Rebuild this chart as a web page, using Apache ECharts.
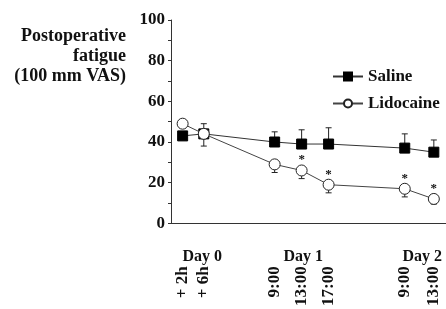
<!DOCTYPE html>
<html>
<head>
<meta charset="utf-8">
<script src="https://cdn.jsdelivr.net/npm/echarts@6/dist/echarts.min.js"></script>
<style>
  html, body { margin: 0; padding: 0; background: #fff; }
  #chart { width: 446px; height: 309px; }
</style>
</head>
<body>
<div id="chart"></div>
<script>
// x positions of the time points (unitless)
let xPos = [2.2, 6.2, 19.6, 24.7, 29.8, 44.2, 49.7]
let timeLabels = ['+ 2h', '+ 6h', '9:00', '13:00', '17:00', '9:00', '13:00']
let dayPos = [5.9, 25.0, 47.5]
let dayLabels = ['Day 0', 'Day 1', 'Day 2']

let salineMean = [43, 44, 40, 39, 39, 37, 35]
let salineErr = [2, 5, 5, 7, 8, 7, 6]
let lidoMean = [49, 44, 29, 26, 19, 17, 12]
let lidoErr = [2, 6, 4, 4, 4, 4, 2.5]
let lidoSig = [0, 0, 0, 1, 1, 1, 1]

let yTitle = ['Postoperative', 'fatigue', '(100 mm VAS)']

let font = '"Liberation Serif", "Times New Roman", serif'

function errSeries(mean, err, dir) {
  return {
    type: 'custom',
    z: 1,
    silent: true,
    data: mean.map((m, i) => [xPos[i], m, m + dir * err[i]]),
    renderItem: (params, api) => {
      let a = api.coord([api.value(0), api.value(1)])
      let b = api.coord([api.value(0), api.value(2)])
      let w = 3
      return {
        type: 'group',
        children: [
          { type: 'line', shape: { x1: a[0], y1: a[1], x2: b[0], y2: b[1] }, style: { stroke: '#222', lineWidth: 1 } },
          { type: 'line', shape: { x1: b[0] - w, y1: b[1], x2: b[0] + w, y2: b[1] }, style: { stroke: '#222', lineWidth: 1 } }
        ]
      }
    }
  }
}

var chart = echarts.init(document.getElementById('chart'))
let option = {
  animation: false,
  grid: { left: 171, right: 0, top: 20, height: 205 },
  legend: {
    left: 327,
    top: 63,
    orient: 'vertical',
    itemWidth: 30,
    itemHeight: 10,
    itemGap: 10,
    textStyle: { fontFamily: font, fontWeight: 'bold', fontSize: 17, color: '#111' },
    data: ['Saline', 'Lidocaine']
  },
  graphic: yTitle.map((t, i) => ({
    type: 'text',
    x: 126,
    y: 36 + i * 20,
    style: {
      text: t,
      font: 'bold 18px ' + font,
      fill: '#111',
      align: 'right',
      verticalAlign: 'middle'
    }
  })),
  xAxis: [
    {
      type: 'value',
      min: 0,
      max: 52,
      offset: 8,
      splitLine: { show: false },
      axisLine: { show: true, lineStyle: { color: '#333', width: 1 } },
      axisTick: { show: false },
      axisLabel: {
        customValues: xPos,
        rotate: 90,
        margin: 35,
        fontFamily: font,
        fontWeight: 'bold',
        fontSize: 17,
        color: '#111',
        formatter: (v) => timeLabels[xPos.indexOf(v)]
      }
    },
    {
      type: 'value',
      min: 0,
      max: 52,
      position: 'bottom',
      offset: 8,
      splitLine: { show: false },
      axisLine: { show: false },
      axisTick: { show: false },
      axisLabel: {
        customValues: dayPos,
        margin: 18,
        fontFamily: font,
        fontWeight: 'bold',
        fontSize: 16,
        color: '#111',
        formatter: (v) => dayLabels[dayPos.indexOf(v)]
      }
    }
  ],
  yAxis: {
    type: 'value',
    min: 0,
    max: 100,
    interval: 20,
    splitLine: { show: false },
    axisLine: { show: true, lineStyle: { color: '#333', width: 1 } },
    axisTick: { show: true, length: 3, lineStyle: { color: '#333' } },
    minorTick: { show: true, splitNumber: 2, length: 3, lineStyle: { color: '#333' } },
    axisLabel: {
      margin: 6,
      fontFamily: font,
      fontWeight: 'bold',
      fontSize: 17,
      color: '#111'
    }
  },
  series: [
    errSeries(salineMean, salineErr, 1),
    errSeries(lidoMean, lidoErr, -1),
    {
      name: 'Saline',
      type: 'line',
      z: 3,
      symbol: 'rect',
      symbolSize: 10,
      data: salineMean.map((v, i) => [xPos[i], v]),
      lineStyle: { color: '#333', width: 1 },
      itemStyle: { color: '#000', borderColor: '#000', borderWidth: 1 }
    },
    {
      name: 'Lidocaine',
      type: 'line',
      z: 4,
      symbol: 'circle',
      symbolSize: 11,
      showAllSymbol: true,
      data: lidoMean.map((v, i) => ({
        value: [xPos[i], v],
        label: {
          show: lidoSig[i] === 1,
          position: 'top',
          distance: -2,
          formatter: '*',
          fontFamily: font,
          fontWeight: 'bold',
          fontSize: 13,
          color: '#111'
        }
      })),
      lineStyle: { color: '#444', width: 1 },
      itemStyle: { color: '#fff', borderColor: '#222', borderWidth: 1 }
    }
  ]
}
chart.setOption(option)
</script>
</body>
</html>
